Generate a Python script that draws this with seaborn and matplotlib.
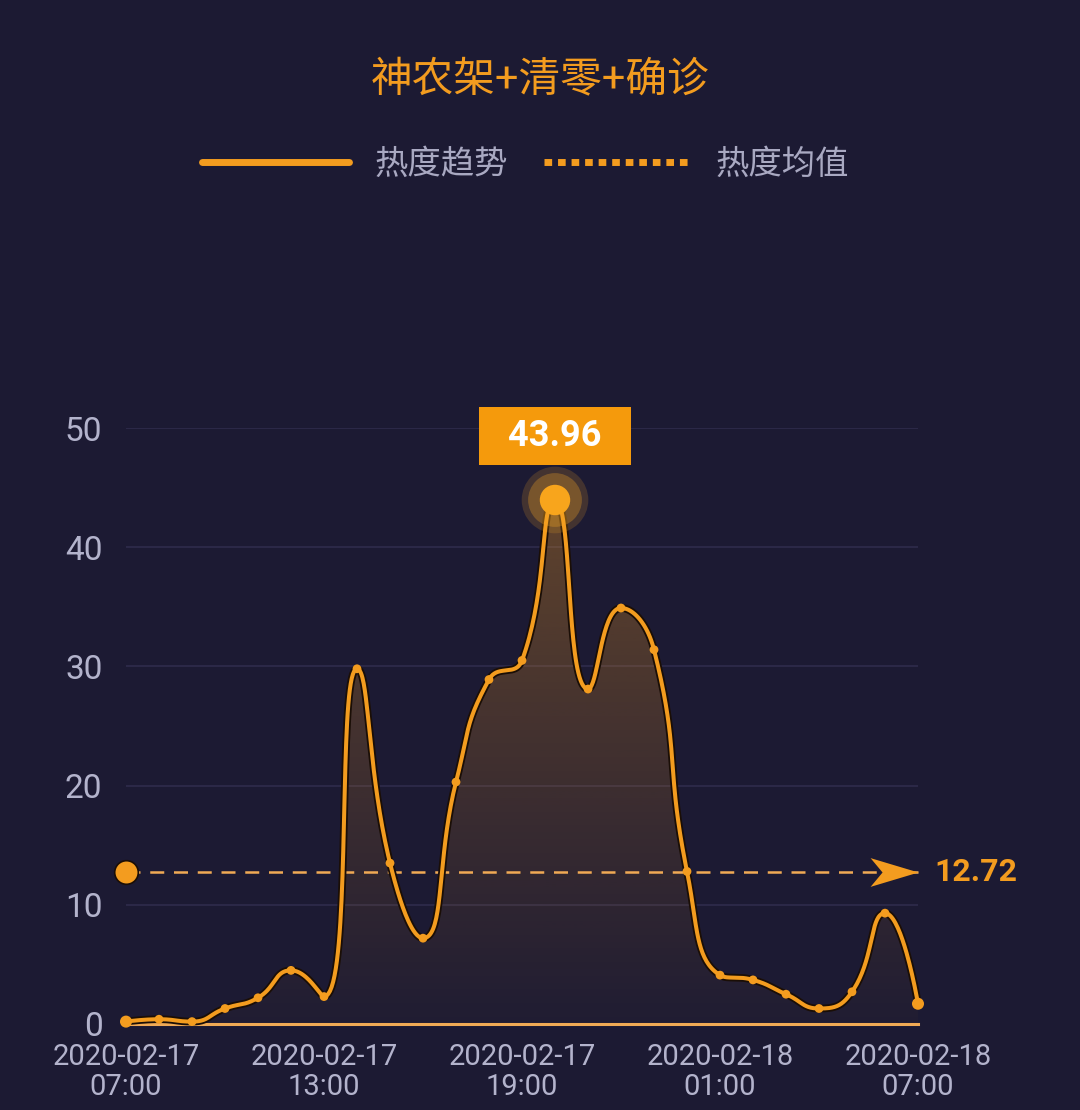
import numpy as np
import pandas as pd
import seaborn as sns
import matplotlib.pyplot as plt
import matplotlib.colors as mcolors
import matplotlib.patheffects as pe
from matplotlib.lines import Line2D
from matplotlib.path import Path

# data (hourly, 2020-02-17 07:00 -> 2020-02-18 07:00)
title = "神农架+清零+确诊"
series_names = ["热度趋势", "热度均值"]
hours = np.arange(25)
heat = [0.2, 0.4, 0.2, 1.3, 2.2, 4.5, 2.3, 29.8, 13.5, 7.2, 20.3, 28.9, 30.5,
        43.96, 28.1, 34.9, 31.4, 12.8, 4.1, 3.7, 2.5, 1.3, 2.7, 9.3, 1.7]
mean_val = 12.72
tick_hours = [0, 6, 12, 18, 24]
tick_labels = ["2020-02-17\n07:00", "2020-02-17\n13:00", "2020-02-17\n19:00",
               "2020-02-18\n01:00", "2020-02-18\n07:00"]
y_ticks = [0, 10, 20, 30, 40, 50]

bg = "#1c1a33"
orange = "#f39c1f"
light_orange = "#f0aa55"
txt_grey = "#b3b3cc"
grid_col = "#2d2a4a"

sns.set_theme(style="dark", rc={"axes.facecolor": bg, "figure.facecolor": bg,
                                "savefig.facecolor": bg})
plt.rcParams["font.family"] = ["Roboto", "Noto Sans CJK SC", "DejaVu Sans"]

fig = plt.figure(figsize=(10.8, 11.1), dpi=100)
ax = fig.add_axes([126 / 1080, 1 - 1024 / 1110, 792 / 1080, 596 / 1110])
ax.set_xlim(hours[0], hours[-1])
ax.set_ylim(0, 50)


def smooth_line(ax, x, y, smooth=0.5, n=40):
    # echarts-like bezier smoothing, done in display space
    p = ax.transData.transform(np.column_stack([x, y]))
    k = len(p)
    cp_in = p.copy()
    cp_out = p.copy()
    for i in range(1, k - 1):
        prev, cur, nxt = p[i - 1], p[i], p[i + 1]
        v = nxt - prev
        l0 = np.hypot(*(cur - prev))
        l1 = np.hypot(*(nxt - cur))
        r1 = l1 / (l0 + l1)
        c_out = cur + v * smooth * r1
        c_out = np.minimum(c_out, np.maximum(nxt, cur))
        c_out = np.maximum(c_out, np.minimum(nxt, cur))
        c_in = cur - (c_out - cur) * l0 / l1
        c_in = np.minimum(c_in, np.maximum(prev, cur))
        c_in = np.maximum(c_in, np.minimum(prev, cur))
        c_out = cur + (cur - c_in) * l1 / l0
        cp_in[i] = c_in
        cp_out[i] = c_out
    t = np.linspace(0, 1, n)[:, None]
    segs = []
    for i in range(k - 1):
        a, b, c, d = p[i], cp_out[i], cp_in[i + 1], p[i + 1]
        seg = ((1 - t) ** 3) * a + 3 * ((1 - t) ** 2) * t * b + 3 * (1 - t) * t ** 2 * c + t ** 3 * d
        segs.append(seg if i == 0 else seg[1:])
    pts = ax.transData.inverted().transform(np.vstack(segs))
    return pts[:, 0], pts[:, 1]


cx, cy = smooth_line(ax, hours, heat)
curve = pd.DataFrame({"h": cx, "v": cy})
points = pd.DataFrame({"h": hours, "v": heat})

# gradient area under the curve
poly = ax.fill_between(cx, cy, 0, facecolor="none", edgecolor="none")
grad = np.zeros((256, 1, 4))
grad[..., :3] = mcolors.to_rgb(orange)
grad[:, 0, 3] = np.linspace(0.02, 0.32, 256)
img = ax.imshow(grad, extent=[hours[0], hours[-1], 0, max(heat)], origin="lower",
                aspect="auto", zorder=1)
img.set_clip_path(poly.get_paths()[0], transform=ax.transData)
ax.set_xlim(hours[0], hours[-1])
ax.set_ylim(0, 50)

shadow = [pe.withStroke(linewidth=5.5, foreground="#1a0e06")]
sns.lineplot(data=curve, x="h", y="v", sort=False, estimator=None, ax=ax,
             color=orange, linewidth=2.9, zorder=4, clip_on=False)
ax.lines[-1].set_path_effects(shadow)
sns.scatterplot(data=points, x="h", y="v", ax=ax, color=orange, s=40,
                edgecolor="none", zorder=5, clip_on=False)
sns.scatterplot(data=points.iloc[[0, -1]], x="h", y="v", ax=ax, color=orange, s=75,
                edgecolor="none", zorder=5, clip_on=False)

# peak marker + label
ipk = int(np.argmax(heat))
ax.scatter(hours[ipk], heat[ipk], s=2300, color="#f5a623", alpha=0.18, edgecolor="none",
           zorder=6, clip_on=False)
ax.scatter(hours[ipk], heat[ipk], s=1500, color="#f5a623", alpha=0.3, edgecolor="none",
           zorder=6, clip_on=False)
ax.scatter(hours[ipk], heat[ipk], s=480, color="#f8a51c", edgecolor="none",
           zorder=7, clip_on=False)
ax.annotate(f"  {heat[ipk]:.2f}  ", xy=(hours[ipk], heat[ipk]), xytext=(0, 46),
            textcoords="offset points", ha="center", va="center", fontsize=26,
            weight="bold", color="white", zorder=8, annotation_clip=False,
            bbox=dict(boxstyle="square,pad=0.3", fc="#f59a0c", ec="none"))

# mean line with start dot and arrow head
ax.plot([hours[0], hours[-1]], [mean_val, mean_val], color=light_orange, lw=1.8,
        dashes=(5.6, 3.9), zorder=3, clip_on=False)
ax.plot(hours[0], mean_val, "o", ms=17, color=orange, mec="#1a0e06", mew=1.2,
        zorder=6, clip_on=False)
arrow = Path([(0, 0), (-2, 0.6), (-1.5, 0), (-2, -0.6), (0, 0)],
             [Path.MOVETO, Path.LINETO, Path.LINETO, Path.LINETO, Path.CLOSEPOLY])
ax.plot(hours[-1], mean_val, marker=arrow, ms=69, color=orange, mew=0,
        zorder=6, clip_on=False)
ax.annotate(f"{mean_val:.2f}", xy=(hours[-1], mean_val), xytext=(12, 0),
            textcoords="offset points", ha="left", va="center", fontsize=23,
            weight="bold", color=orange, annotation_clip=False)

# axes styling
ax.set_xticks(tick_hours, tick_labels)
ax.set_yticks(y_ticks)
ax.set_xlabel("")
ax.set_ylabel("")
ax.tick_params(axis="x", length=0, pad=14, labelsize=21, colors=txt_grey)
ax.tick_params(axis="y", length=0, pad=17, labelsize=24, colors=txt_grey)
for lbl in ax.get_xticklabels():
    lbl.set_linespacing(1.05)
ax.grid(False)
ax.yaxis.grid(True, color=grid_col, lw=1.3)
for side in ["top", "right", "left"]:
    ax.spines[side].set_visible(False)
ax.spines["bottom"].set_color(light_orange)
ax.spines["bottom"].set_linewidth(2.2)
ax.spines["bottom"].set_zorder(3)

# title and legend
fig.text(0.5, 1 - 80 / 1110, title, ha="center", va="center", fontsize=30, color=orange)
handles = [Line2D([], [], color=orange, lw=5),
           Line2D([], [], color=orange, lw=5, dashes=(1.1, 0.85), dash_capstyle="butt")]
fig.legend(handles, series_names, loc="center", bbox_to_anchor=(0.487, 1 - 165 / 1110),
           ncol=2, frameon=False, fontsize=24, labelcolor="#a9a9c2",
           handlelength=4.4, handletextpad=0.75, columnspacing=1.1)

fig.savefig("out.png", dpi=100, facecolor=bg)
